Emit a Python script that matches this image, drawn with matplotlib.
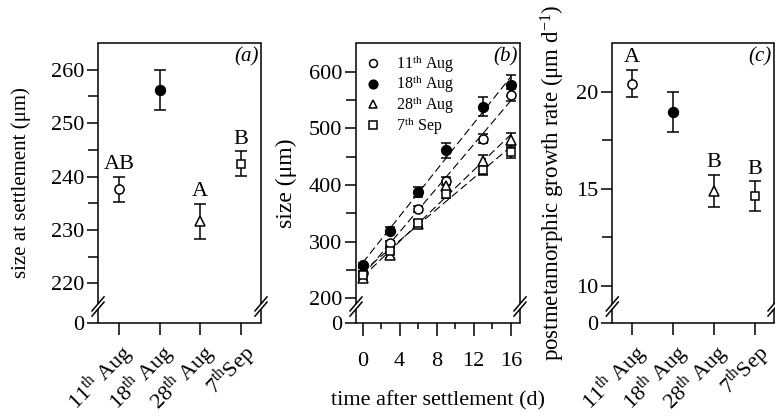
import matplotlib
matplotlib.use('Agg')
import matplotlib.pyplot as plt
import matplotlib.transforms as mtransforms
from matplotlib.lines import Line2D
import numpy as np

plt.rcParams['font.family'] = ['Liberation Serif', 'DejaVu Serif']
plt.rcParams['mathtext.fontset'] = 'custom'
plt.rcParams['mathtext.rm'] = 'Liberation Serif'
plt.rcParams['mathtext.it'] = 'Liberation Serif:italic'
plt.rcParams['mathtext.bf'] = 'Liberation Serif:bold'

# ---------------- data ----------------
date_ticks = ["11$^{\\mathrm{th}}$ Aug", "18$^{\\mathrm{th}}$ Aug",
              "28$^{\\mathrm{th}}$ Aug", "7$^{\\mathrm{th}}$Sep"]
legend_labels = ["11$^{\\mathrm{th}}$ Aug", "18$^{\\mathrm{th}}$ Aug",
                 "28$^{\\mathrm{th}}$ Aug", "7$^{\\mathrm{th}}$ Sep"]

settle_size = [237.6, 256.2, 231.6, 242.4]
settle_err = [2.4, 3.7, 3.3, 2.3]
settle_letters = ["AB", "", "A", "B"]

growth_rate = [20.4, 18.95, 14.87, 14.62]
growth_err = [0.70, 1.03, 0.83, 0.75]
growth_letters = ["A", "", "B", "B"]

days = [0, 3, 6, 9, 13, 16]
size_11aug = [244, 297, 358, 407, 482, 559]
size_18aug = [258, 319, 388, 461, 538, 576]
size_28aug = [236, 277, 331, 398, 443, 479]
size_7sep = [242, 284, 333, 384, 427, 459]
err_11aug = [4, 5, 5, 7, 8, 10]
err_18aug = [4, 6, 9, 13, 17, 19]
err_28aug = [4, 5, 6, 8, 10, 12]
err_7sep = [4, 5, 6, 7, 9, 12]

# ---------------- styling ----------------
styles = [dict(marker='o', mfc='white', ms=6.0),
          dict(marker='o', mfc='black', ms=6.5),
          dict(marker='^', mfc='white', ms=6.0),
          dict(marker='s', mfc='white', ms=5.4)]
FS = 15
TFS = 16
LW = 1.1

fig = plt.figure(figsize=(7.75, 4.16), dpi=100)
W, H = 775.0, 416.0
bottom_px, top_px = 323.0, 43.0
ax_h = (bottom_px - top_px)
rects = [(98, 261), (356, 520), (612.3, 774)]
axes = [fig.add_axes([l / W, (H - bottom_px) / H, (r - l) / W, ax_h / H]) for l, r in rects]


def style_axis(ax):
    for s in ['top', 'right', 'left', 'bottom']:
        ax.spines[s].set_linewidth(LW)
    ax.spines['left'].set_visible(False)
    ax.spines['right'].set_visible(False)
    ax.tick_params(axis='both', which='both', direction='out', width=LW,
                   labelsize=TFS, right=False, top=False)
    ax.tick_params(axis='y', which='major', length=8, pad=2)
    ax.tick_params(axis='y', which='minor', length=7)
    ax.tick_params(axis='x', which='major', length=8.5, pad=3)
    ax.tick_params(axis='x', which='minor', length=4.5)


def draw_breaks(ax, width_px):
    # manual side spines with break marks near bottom
    c = 16.5 / ax_h
    g = 2.6 / ax_h
    dx = 6.0 / width_px
    dy = 7.0 / ax_h
    for xs in (0.0, 1.0):
        ax.add_line(Line2D([xs, xs], [c + g, 1.0], transform=ax.transAxes,
                           color='black', lw=LW, clip_on=False, solid_capstyle='butt'))
        ax.add_line(Line2D([xs, xs], [0.0, c - g], transform=ax.transAxes,
                           color='black', lw=LW, clip_on=False, solid_capstyle='butt'))
        for off in (-g, g):
            ax.add_line(Line2D([xs - dx, xs + dx], [c + off - dy, c + off + dy],
                               transform=ax.transAxes, color='black', lw=LW,
                               clip_on=False))


def cat_panel(ax, vals, errs, letters, ylim, majors, minors, ylabel, tag, xlim,
              width_px, ylabel_fs):
    x = np.arange(1, len(vals) + 1)
    for i in range(len(vals)):
        st = styles[i]
        ax.errorbar(x[i], vals[i], yerr=errs[i], marker=st['marker'], mfc=st['mfc'],
                    mec='black', ms=st['ms'] + 0.6, mew=LW, color='black', ecolor='black',
                    elinewidth=LW, capsize=4.5, capthick=LW, ls='none', zorder=3)
        if letters[i]:
            ax.annotate(letters[i], (x[i], vals[i] + errs[i]), xytext=(0, 2),
                        textcoords='offset points', ha='center', va='bottom', fontsize=16)
    ax.set_xlim(*xlim)
    ax.set_ylim(*ylim)
    ax.set_yticks([ylim[0]] + majors)
    ax.set_yticklabels(['0'] + [f'{m:g}' for m in majors])
    ax.set_yticks(minors, minor=True)
    ax.set_xticks(x)
    ax.set_xticklabels(date_ticks, rotation=45, ha='right', va='top',
                       rotation_mode='anchor')
    offset = mtransforms.ScaledTranslation(10 / 100, -2 / 100, fig.dpi_scale_trans)
    for lab in ax.get_xticklabels():
        lab.set_transform(lab.get_transform() + offset)
    ax.set_ylabel(ylabel, fontsize=ylabel_fs)
    ax.text(0.985, 0.985, tag, transform=ax.transAxes, ha='right', va='top',
            fontsize=FS, style='italic')
    style_axis(ax)
    draw_breaks(ax, width_px)


# panel (a)
cat_panel(axes[0], settle_size, settle_err, settle_letters, (212.6, 265.0),
          [220, 230, 240, 250, 260], [225, 235, 245, 255],
          'size at settlement (\u03bcm)', '(a)', (0.483, 4.5), 163, 15)
axes[0].yaxis.set_label_coords(-0.41, 0.5)

# panel (c)
cat_panel(axes[2], growth_rate, growth_err, growth_letters, (8.08, 22.5),
          [10, 15, 20], [12.5, 17.5],
          'postmetamorphic growth rate (\u03bcm d$^{-1}$)', '(c)', (0.51, 4.47),
          161.7, 16.5)
axes[2].yaxis.set_label_coords(-0.28, 0.5)

# panel (b)
ax = axes[1]
series = [size_11aug, size_18aug, size_28aug, size_7sep]
errs = [err_11aug, err_18aug, err_28aug, err_7sep]
d = np.array(days, dtype=float)
for i, (vals, ee) in enumerate(zip(series, errs)):
    k, b0 = np.polyfit(d, vals, 1)
    xx = np.array([0, 16.0])
    ax.plot(xx, k * xx + b0, color='black', lw=0.8, dashes=(7, 3.5), zorder=2)
for i, (vals, ee) in enumerate(zip(series, errs)):
    st = styles[i]
    ax.errorbar(d, vals, yerr=ee, marker=st['marker'], mfc=st['mfc'], mec='black',
                ms=st['ms'] + 0.5, mew=LW, color='black', ecolor='black', elinewidth=LW,
                capsize=3.5, capthick=LW, ls='none', zorder=3)
ax.set_xlim(-0.72, 17.0)
ax.set_ylim(156.4, 650.6)
ax.set_yticks([156.4, 200, 300, 400, 500, 600])
ax.set_yticklabels(['0', '200', '300', '400', '500', '600'])
ax.set_yticks([250, 350, 450, 550], minor=True)
ax.set_xticks([0, 4, 8, 12, 16])
ax.set_xticks([2, 6, 10, 14], minor=True)
ax.set_xlabel('time after settlement (d)', fontsize=16, labelpad=14)
ax.set_ylabel('size (\u03bcm)', fontsize=17)
ax.yaxis.set_label_coords(-0.36, 0.5)
ax.text(0.985, 0.985, '(b)', transform=ax.transAxes, ha='right', va='top',
        fontsize=FS, style='italic')
handles = [Line2D([], [], ls='none', marker=st['marker'], mfc=st['mfc'], mec='black',
                  ms=st['ms'] - 0.3, mew=LW) for st in styles]
ax.legend(handles, legend_labels, loc='upper left', frameon=False, fontsize=11.5,
          handletextpad=1.0, labelspacing=-0.08, borderaxespad=0.2, handlelength=0.9,
          borderpad=0.4)
style_axis(ax)
ax.tick_params(axis='x', which='major', length=9, pad=12)
draw_breaks(ax, 164)

fig.savefig('out.png', dpi=100)
